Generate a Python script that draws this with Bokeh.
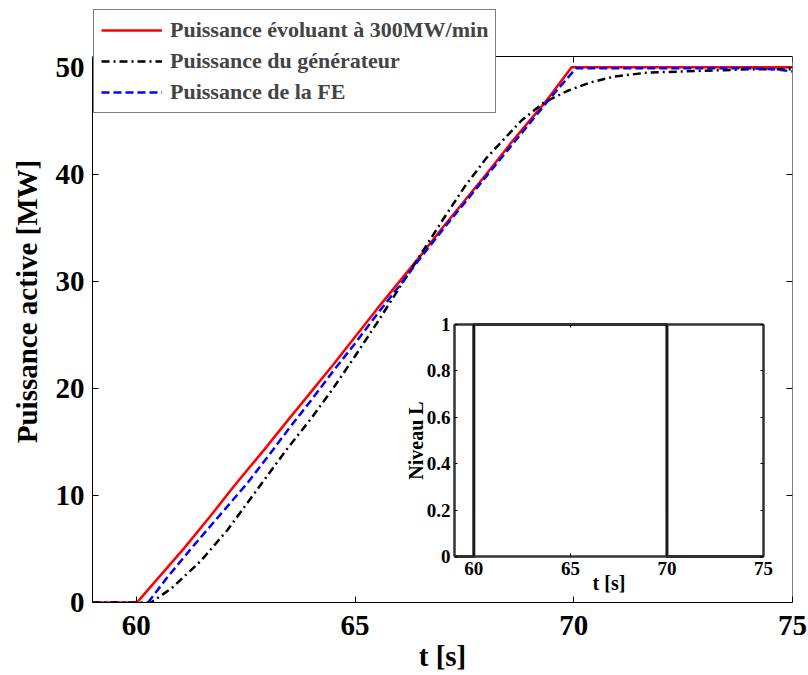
from bokeh.plotting import figure
from bokeh.models import Range1d, LinearAxis, FixedTicker, Legend, LegendItem
from bokeh.embed import file_html
from bokeh.resources import INLINE

# ---------------- data ----------------
t_ref = [59, 60.0, 60.06, 60.42, 61.1, 61.7, 62.24, 62.93, 63.5, 64.0, 64.5, 65.0, 65.5,
         66.0, 66.5, 67.0, 67.5, 68.0, 68.6, 69.4, 69.95, 75]
p_ref = [0, 0, 0.2, 1.9, 5.1, 8.1, 10.9, 14.3, 17.2, 19.7, 22.2, 24.8, 27.4,
         29.9, 32.4, 35.0, 37.5, 40.0, 43.1, 47.0, 50.0, 50.0]

t_gen = [59, 60.34, 60.8, 61.48, 62.09, 62.7, 63.42, 64.0, 64.5, 65.0, 65.5, 66.0, 66.5,
         67.0, 67.5, 68.0, 68.41, 68.8, 69.32, 69.86, 70.4, 70.9, 71.68, 72.5, 73.2, 74.0, 75]
p_gen = [0, 0, 1.3, 3.9, 6.8, 10.2, 14.2, 17.2, 20.0, 23.0, 26.1, 29.3, 32.5,
         35.7, 38.8, 41.5, 43.3, 45.0, 46.7, 47.8, 48.6, 49.1, 49.5, 49.6, 49.7, 49.8, 49.8]

t_fe = [60.27, 60.72, 61.33, 61.94, 62.55, 63.04, 63.5, 64.0, 64.5, 65.0, 65.5, 66.0, 66.5,
        67.0, 67.5, 68.0, 68.5, 69.0, 69.5, 70.05, 71, 72, 73, 74, 74.6, 75]
p_fe = [0, 2.4, 5.4, 8.3, 11.2, 13.8, 16.3, 18.9, 21.6, 24.2, 26.9, 29.5, 32.2,
        34.8, 37.3, 39.8, 42.3, 44.8, 47.3, 49.9, 49.9, 49.9, 49.9, 49.9, 49.8, 49.6]

t_lvl = [59, 60, 60, 70, 70, 75]
lvl = [0, 0, 1, 1, 0, 0]

series_labels = ["Puissance évoluant à 300MW/min", "Puissance du générateur", "Puissance de la FE"]
x_ticks = [60, 65, 70, 75]
y_ticks = [0, 10, 20, 30, 40, 50]
inset_x_ticks = [60, 65, 70, 75]
inset_y_ticks = [0, 0.2, 0.4, 0.6, 0.8, 1]
inset_y_labels = ["0", "0.2", "0.4", "0.6", "0.8", "1"]

x_lim = (59, 75)
y_lim = (0, 51)
inset_x_lim = (59, 75)
inset_y_lim = (0, 1)

# ---------------- layout (pixels) ----------------
W, H = 808, 675
F_LEFT, F_RIGHT, F_TOP, F_BOTTOM = 92, 792, 0, 602   # drawing frame
BOX_TOP = 56                                          # pixel row of y = y_lim[1]
BL, BR, BT, BB = F_LEFT, W - F_RIGHT, F_TOP, H - F_BOTTOM
FW, FH = F_RIGHT - F_LEFT, F_BOTTOM - F_TOP
upp_y = (y_lim[1] - y_lim[0]) / (F_BOTTOM - BOX_TOP)
y_view = Range1d(y_lim[0], y_lim[1] + (BOX_TOP - F_TOP) * upp_y)

# inset frame position inside main frame (px from frame left / from frame bottom)
IX0, IX1, IY0, IY1 = 362, 671, 46, 278
sxu = (inset_x_lim[1] - inset_x_lim[0]) / (IX1 - IX0)
syu = (inset_y_lim[1] - inset_y_lim[0]) / (IY1 - IY0)
ix_range = Range1d(inset_x_lim[0] - IX0 * sxu, inset_x_lim[1] + (FW - IX1) * sxu)
iy_range = Range1d(inset_y_lim[0] - IY0 * syu, inset_y_lim[1] + (FH - IY1) * syu)

FONT = "Liberation Serif"

p = figure(width=W, height=H, x_range=Range1d(*x_lim), y_range=y_view,
           output_backend="svg", toolbar_location=None,
           min_border_left=BL, min_border_right=BR, min_border_top=BT, min_border_bottom=BB)
p.extra_x_ranges = {"ix": ix_range}
p.extra_y_ranges = {"iy": iy_range}
p.grid.visible = False
p.outline_line_color = None
p.background_fill_color = "white"
p.border_fill_color = "white"


def style_axis(ax, ticks, size, tick_len, labels=True):
    ax.ticker = FixedTicker(ticks=ticks)
    ax.major_tick_in = tick_len
    ax.major_tick_out = 0
    ax.minor_tick_line_color = None
    ax.major_tick_line_color = "black"
    ax.major_label_text_font = FONT
    ax.major_label_text_font_style = "bold"
    ax.major_label_text_font_size = size
    ax.major_label_text_color = "black"
    ax.axis_label_text_font = FONT
    ax.axis_label_text_font_style = "bold"
    ax.axis_label_text_color = "black"
    if not labels:
        ax.major_label_overrides = {v: "" for v in ticks}
        ax.major_label_standoff = 0


xa = p.xaxis[0]
style_axis(xa, x_ticks, "29px", 6)
xa.axis_label = "t [s]"
xa.axis_label_text_font_size = "29px"
xa.major_label_standoff = 13
xa.axis_label_standoff = 2
xa.axis_line_color = "black"

ya = p.yaxis[0]
style_axis(ya, y_ticks, "29px", 6)
ya.bounds = y_lim
ya.axis_label = "Puissance active [MW]"
ya.axis_label_text_font_size = "29px"
ya.major_label_standoff = 8
ya.axis_label_standoff = 10
ya.axis_line_color = "black"

top_ax = LinearAxis(fixed_location=y_lim[1], bounds=x_lim, axis_line_color="black")
style_axis(top_ax, x_ticks, "1px", 6, labels=False)
p.add_layout(top_ax, "above")
right_ax = LinearAxis(fixed_location=x_lim[1], bounds=y_lim, axis_line_color="black")
style_axis(right_ax, y_ticks, "1px", 6, labels=False)
p.add_layout(right_ax, "right")

# ---------------- main curves ----------------
r_ref = p.line(t_ref, p_ref, line_color="#ff0000", line_width=2.5)
r_gen = p.line(t_gen, p_gen, line_color="#000000", line_width=2.5, line_dash="8 4 2 4")
r_fe = p.line(t_fe, p_fe, line_color="#0000ff", line_width=2.5, line_dash="8 4")

LEG_LEFT, LEG_TOP, LEG_H = 93, 8, 105
legend = Legend(items=[LegendItem(label=series_labels[0], renderers=[r_ref]),
                       LegendItem(label=series_labels[1], renderers=[r_gen]),
                       LegendItem(label=series_labels[2], renderers=[r_fe])],
                location=(LEG_LEFT - F_LEFT, F_BOTTOM - (LEG_TOP + LEG_H)), orientation="vertical")
legend.label_text_font = FONT
legend.label_text_font_style = "bold"
legend.label_text_font_size = "22px"
legend.label_height = 24
legend.glyph_height = 24
legend.glyph_width = 61
legend.label_standoff = 8
legend.spacing = 5
legend.padding = 7
legend.margin = 0
legend.border_line_color = "black"
legend.border_line_width = 1
legend.background_fill_color = "white"
legend.background_fill_alpha = 1
p.add_layout(legend, "center")

# ---------------- inset ----------------
p.quad(left=[inset_x_lim[0]], right=[inset_x_lim[1]], bottom=[inset_y_lim[0]], top=[inset_y_lim[1]],
       x_range_name="ix", y_range_name="iy", fill_color="white", line_color=None)
p.line(t_lvl, lvl, x_range_name="ix", y_range_name="iy", line_color="#1a1a1a", line_width=3)

ICOL = "#333333"
ib = LinearAxis(x_range_name="ix", y_range_name="iy", fixed_location=inset_y_lim[0], bounds=inset_x_lim)
style_axis(ib, inset_x_ticks, "19px", 3)
ib.axis_label = "t [s]"
ib.axis_label_text_font_size = "20px"
ib.major_label_standoff = 5
ib.axis_label_standoff = -6
ib.axis_line_color = ICOL
ib.axis_line_width = 2.5
p.add_layout(ib, "below")

il = LinearAxis(x_range_name="ix", y_range_name="iy", fixed_location=inset_x_lim[0], bounds=inset_y_lim)
style_axis(il, inset_y_ticks, "19px", 3)
il.major_label_overrides = {v: s for v, s in zip(inset_y_ticks, inset_y_labels)}
il.axis_label = "Niveau L"
il.axis_label_text_font_size = "20px"
il.axis_label_standoff = -3
il.major_label_standoff = 4
il.axis_line_color = ICOL
il.axis_line_width = 2.5
p.add_layout(il, "left")

it = LinearAxis(x_range_name="ix", y_range_name="iy", fixed_location=inset_y_lim[1], bounds=inset_x_lim)
style_axis(it, inset_x_ticks, "1px", 3, labels=False)
it.axis_line_color = ICOL
it.axis_line_width = 2.5
p.add_layout(it, "above")

ir = LinearAxis(x_range_name="ix", y_range_name="iy", fixed_location=inset_x_lim[1], bounds=inset_y_lim)
style_axis(ir, inset_y_ticks, "1px", 3, labels=False)
ir.axis_line_color = ICOL
ir.axis_line_width = 2.5
p.add_layout(ir, "right")

open("out.html", "w").write(file_html(p, INLINE))
